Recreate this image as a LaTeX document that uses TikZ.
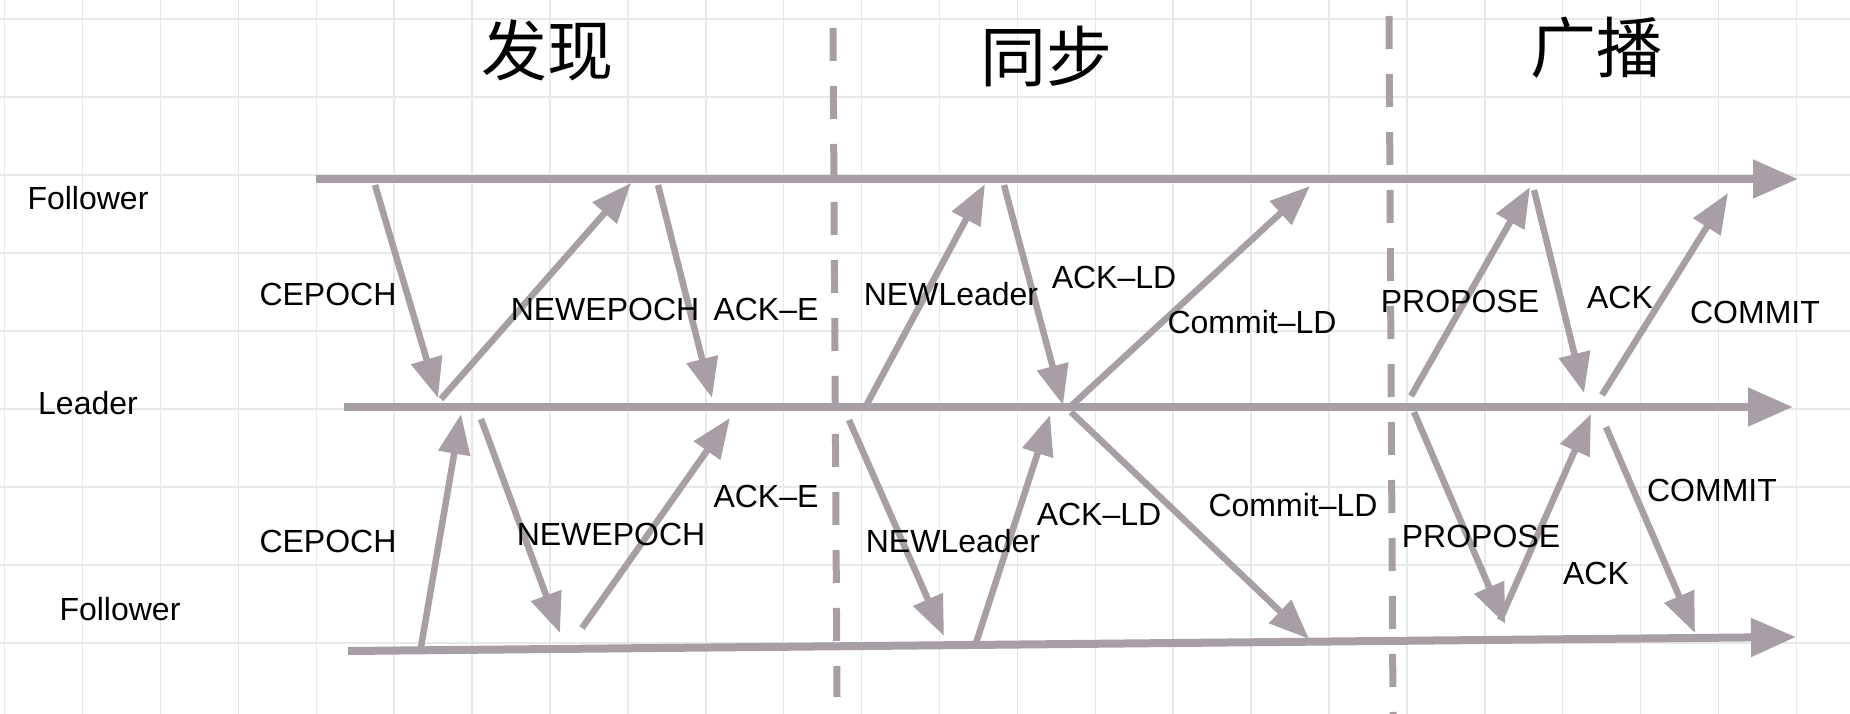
\documentclass[tikz,border=0pt]{standalone}
\usepackage{fontspec}
\setmainfont{Liberation Sans}
\newfontfamily\cjk{Noto Sans CJK SC}
\usetikzlibrary{arrows.meta}
\definecolor{flow}{RGB}{168,159,166}
\definecolor{gridc}{RGB}{232,232,232}
\tikzset{
  gridline/.style={draw=gridc, line width=1.5pt},
  mainline/.style={draw=flow, line width=8pt, -{Triangle[length=45pt,width=37pt]}},
  plainline/.style={draw=flow, line width=8pt},
  msg/.style={draw=flow, line width=6.5pt, -{Triangle[length=40pt,width=31pt]}, shorten <=0pt},
  phase/.style={draw=flow, line width=7pt, dash pattern=on 33pt off 25pt},
  lbl/.style={font=\fontsize{32pt}{36pt}\selectfont, text=black, inner sep=0pt, anchor=base},
  title/.style={font=\cjk\fontsize{66pt}{70pt}\selectfont, text=black, inner sep=0pt, anchor=center}
}
\begin{document}
\begin{tikzpicture}[x=1pt, y=-1pt]
\useasboundingbox (0,0) rectangle (1850,714);
\fill[white] (0,0) rectangle (1850,714);
% grid
\foreach \k in {0,...,23} { \draw[gridline] ({4.7+77.9*\k},0) -- ({4.7+77.9*\k},714); }
\foreach \k in {0,...,8} { \draw[gridline] (0,{19+78*\k}) -- (1850,{19+78*\k}); }

% phase separators
\coordinate (d1a) at (833,28);  \coordinate (d1b) at (837,697);
\coordinate (d2a) at (1389,16); \coordinate (d2b) at (1393,714);
\draw[phase] (d1a) -- (d1b);
\draw[phase] (d2a) -- (d2b);

% titles
\node[title] (t1) at (547,50) {发现};
\node[title] (t2) at (1046,56) {同步};
\node[title] (t3) at (1596,48) {广播};

% time lines
\coordinate (fa) at (316,179);  \coordinate (fb) at (1798,179);
\coordinate (la) at (344,407);  \coordinate (lb) at (1793,407);
\coordinate (ga) at (348,651);  \coordinate (gb) at (1796,637);
\draw[mainline] (fa) -- (fb);
\draw[mainline] (la) -- (lb);
\draw[mainline] (ga) -- (gb);

% role labels
\node[lbl] (nf1) at (88,210) {Follower};
\node[lbl] (nl)  at (88,414) {Leader};
\node[lbl] (nf2) at (120,620) {Follower};

% upper messages
\coordinate (u1s) at (375,185);  \coordinate (u1e) at (438,398);
\coordinate (u2s) at (441,399);  \coordinate (u2e) at (631,183);
\coordinate (u3s) at (658,185);  \coordinate (u3e) at (712,398);
\coordinate (u4s) at (867,404);  \coordinate (u4e) at (985,184);
\coordinate (u5s) at (1004,185); \coordinate (u5e) at (1063,405);
\coordinate (u6s) at (1070,407); \coordinate (u6e) at (1310,186);
\coordinate (u7s) at (1411,396); \coordinate (u7e) at (1530,187);
\coordinate (u8s) at (1534,190); \coordinate (u8e) at (1584,393);
\coordinate (u9s) at (1602,395); \coordinate (u9e) at (1728,193);
\foreach \i in {1,...,9} { \draw[msg] (u\i s) -- (u\i e); }

% lower messages
\coordinate (w1s) at (421,647);  \coordinate (w1e) at (461,414);
\coordinate (w2s) at (481,419);  \coordinate (w2e) at (560,633);
\coordinate (w3s) at (582,628);  \coordinate (w3e) at (730,418);
\coordinate (w4s) at (849,420);  \coordinate (w4e) at (944,636);
\coordinate (w5s) at (976,643);  \coordinate (w5e) at (1050,415);
\coordinate (w6s) at (1071,412); \coordinate (w6e) at (1309,639);
\coordinate (w7s) at (1414,412); \coordinate (w7e) at (1505,624);
\coordinate (w8s) at (1500,620); \coordinate (w8e) at (1591,414);
\coordinate (w9s) at (1606,427); \coordinate (w9e) at (1695,633);
\foreach \i in {1,...,9} { \draw[msg] (w\i s) -- (w\i e); }

% upper labels
\node[lbl] (a1) at (328,305) {CEPOCH};
\node[lbl] (a2) at (605,320) {NEWEPOCH};
\node[lbl] (a3) at (766,320) {ACK–E};
\node[lbl] (a4) at (951,305) {NEWLeader};
\node[lbl] (a5) at (1114,288) {ACK–LD};
\node[lbl] (a6) at (1252,333) {Commit–LD};
\node[lbl] (a7) at (1460,312) {PROPOSE};
\node[lbl] (a8) at (1620,308) {ACK};
\node[lbl] (a9) at (1755,323) {COMMIT};

% lower labels
\node[lbl] (b1) at (328,552) {CEPOCH};
\node[lbl] (b2) at (611,545) {NEWEPOCH};
\node[lbl] (b3) at (766,507) {ACK–E};
\node[lbl] (b4) at (953,552) {NEWLeader};
\node[lbl] (b5) at (1099,525) {ACK–LD};
\node[lbl] (b6) at (1293,516) {Commit–LD};
\node[lbl] (b7) at (1481,547) {PROPOSE};
\node[lbl] (b8) at (1596,584) {ACK};
\node[lbl] (b9) at (1712,501) {COMMIT};
\end{tikzpicture}
\end{document}
